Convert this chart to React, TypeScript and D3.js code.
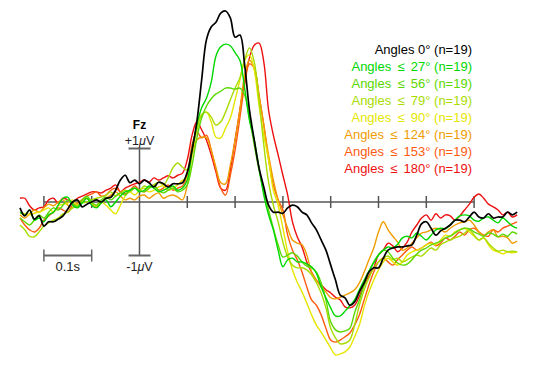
import React, { useRef, useEffect } from 'react';
import * as d3 from 'd3';

// sampling of the averaged waveforms (s)
const T_START = -0.25;
const T_STEP = 0.01;

const LEGEND_LABELS = [
  'Angles 0° (n=19)',
  'Angles \u2009≤\u2009 27° (n=19)',
  'Angles \u2009≤\u2009 56° (n=19)',
  'Angles \u2009≤\u2009 79° (n=19)',
  'Angles \u2009≤\u2009 90° (n=19)',
  'Angles \u2009≤\u2009 124° (n=19)',
  'Angles \u2009≤\u2009 153° (n=19)',
  'Angles \u2009≤\u2009 180° (n=19)',
];

const COLORS = ['#000000', '#00d800', '#5cd800', '#a8dc00', '#e6e600', '#f09c00', '#ff5a10', '#ee1010'];

const X_TICKS = [-0.2, -0.1, 0.1, 0.2, 0.3, 0.4, 0.5, 0.6, 0.7];

// Fz ERPs in microvolts
const ERP_0 = [
  -0.11, -0.26, -0.15, -0.32, -0.26, -0.45, -0.37, -0.37, -0.32, -0.26,
  -0.13, 0, 0.04, -0.09, -0.04, 0, 0.04, 0, 0.07, 0.09,
  0.22, 0.41, 0.5, 0.36, 0.41, 0.34, 0.41, 0.36, 0.28, 0.37,
  0.34, 0.28, 0.34, 0.34, 0.36, 0.56, 0.97, 1.5, 2.28, 3.03,
  3.27, 3.36, 3.53, 3.57, 3.44, 3.08, 3.12, 2.56, 1.72, 1.16,
  0.64, 0.28, -0.06, -0.19, -0.19, -0.21, -0.11, -0.06, -0.09, -0.19,
  -0.24, -0.39, -0.52, -0.71, -0.9, -1.18, -1.46, -1.74, -1.79, -1.93,
  -1.87, -1.68, -1.51, -1.31, -1.23, -1.23, -1.05, -0.9, -0.86, -0.84,
  -0.84, -0.82, -0.8, -0.62, -0.41, -0.37, -0.49, -0.62, -0.54, -0.49,
  -0.43, -0.34, -0.34, -0.37, -0.28, -0.19, -0.28, -0.3, -0.22, -0.3,
  -0.28, -0.28, -0.19, -0.24, -0.19,
];
const ERP_27 = [
  -0.19, -0.24, -0.15, -0.34, -0.3, -0.37, -0.24, -0.19, -0.06, 0.07,
  0.09, -0.06, -0.11, -0.02, 0.07, -0.06, -0.11, -0.02, 0.04, -0.09,
  0, 0.11, 0.19, 0.22, 0.26, 0.19, 0.22, 0.3, 0.26, 0.19,
  0.22, 0.26, 0.3, 0.22, 0.26, 0.41, 0.97, 1.44, 1.76, 1.94,
  2.24, 2.73, 2.9, 2.95, 2.92, 2.79, 2.65, 2.13, 1.53, 1.16,
  0.64, 0.13, -0.24, -0.52, -0.9, -1.21, -1.08, -1.05, -1.12, -1.12,
  -1.16, -1.21, -1.33, -1.59, -1.79, -1.98, -2.13, -2.13, -2.04, -1.94,
  -1.83, -1.64, -1.46, -1.29, -1.14, -0.99, -0.9, -0.84, -0.86, -0.79,
  -0.67, -0.64, -0.67, -0.58, -0.64, -0.71, -0.62, -0.52, -0.49, -0.5,
  -0.43, -0.34, -0.26, -0.24, -0.26, -0.34, -0.36, -0.3, -0.28, -0.34,
  -0.39, -0.3, -0.37, -0.45, -0.49,
];
const ERP_56 = [
  -0.3, -0.37, -0.43, -0.34, -0.24, -0.3, -0.19, -0.11, -0.15, -0.06,
  0.04, -0.02, -0.09, 0.04, 0.11, 0, -0.06, 0.04, 0.09, 0.04,
  0.11, 0.17, 0.13, 0.22, 0.26, 0.22, 0.19, 0.26, 0.3, 0.22,
  0.17, 0.22, 0.26, 0.19, 0.22, 0.32, 0.69, 1.2, 1.57, 1.79,
  1.93, 2.02, 2.07, 2.13, 2.13, 2.11, 2.13, 2.0, 1.57, 1.07,
  0.6, 0.19, -0.15, -0.49, -0.8, -1.03, -0.99, -0.95, -1.01, -1.12,
  -1.2, -1.23, -1.31, -1.51, -1.83, -2.24, -2.39, -2.43, -2.41, -2.36,
  -2.07, -1.83, -1.55, -1.31, -1.12, -0.99, -0.9, -0.93, -1.05, -1.14,
  -1.18, -1.16, -1.08, -0.97, -0.9, -0.86, -0.8, -0.77, -0.73, -0.67,
  -0.64, -0.58, -0.52, -0.49, -0.5, -0.56, -0.6, -0.64, -0.58, -0.6,
  -0.65, -0.6, -0.64, -0.56, -0.6,
];
const ERP_79 = [
  -0.43, -0.52, -0.64, -0.65, -0.56, -0.45, -0.39, -0.34, -0.3, -0.22,
  -0.19, -0.11, -0.06, -0.02, 0, 0.04, 0.07, 0.09, 0.13, 0.19,
  0.11, 0.17, 0.22, 0.19, 0.26, 0.22, 0.3, 0.26, 0.32, 0.37,
  0.32, 0.45, 0.64, 0.73, 0.65, 0.6, 0.97, 1.35, 1.63, 1.68,
  1.59, 1.44, 1.5, 1.68, 1.91, 2.13, 2.32, 2.65, 2.88, 2.62,
  1.91, 1.07, 0.37, -0.06, -0.37, -0.75, -1.03, -1.18, -1.23, -1.23,
  -1.27, -1.36, -1.51, -1.7, -1.98, -2.36, -2.54, -2.65, -2.64, -2.58,
  -2.3, -1.93, -1.64, -1.42, -1.23, -1.12, -1.05, -1.01, -1.08, -1.05,
  -1.12, -1.08, -1.03, -0.99, -1.01, -0.93, -0.86, -0.9, -0.8, -0.75,
  -0.71, -0.67, -0.64, -0.58, -0.52, -0.62, -0.71, -0.67, -0.77, -0.86,
  -0.92, -0.9, -0.93, -0.92, -0.93,
];
const ERP_90 = [
  -0.19, -0.22, -0.24, -0.21, -0.19, -0.15, -0.11, -0.19, -0.07, -0.04,
  -0.02, 0.04, -0.06, 0, 0.07, -0.02, -0.07, 0, -0.06, -0.15,
  -0.22, -0.06, 0.11, 0.19, 0.13, 0.22, 0.26, 0.19, 0.22, 0.28,
  0.3, 0.22, 0.26, 0.32, 0.41, 0.45, 0.88, 1.35, 1.63, 1.68,
  1.5, 1.21, 1.2, 1.38, 1.57, 1.91, 2.28, 2.65, 2.75, 2.47,
  1.81, 1.25, 0.79, 0.22, -0.06, -0.49, -0.93, -1.27, -1.5, -1.68,
  -1.89, -2.11, -2.3, -2.43, -2.58, -2.73, -2.86, -2.84, -2.8, -2.71,
  -2.52, -2.3, -1.96, -1.68, -1.46, -1.27, -1.12, -1.05, -1.12, -1.18,
  -1.12, -0.99, -0.93, -0.9, -0.86, -0.8, -0.77, -0.8, -0.71, -0.62,
  -0.64, -0.56, -0.52, -0.49, -0.56, -0.64, -0.71, -0.67, -0.8, -0.9,
  -0.93, -0.97, -0.93, -0.95, -0.93,
];
const ERP_124 = [
  -0.24, -0.3, -0.22, -0.15, -0.19, -0.11, -0.04, -0.07, 0, 0.04,
  -0.06, -0.11, -0.02, 0.04, 0.07, -0.04, -0.09, -0.02, 0.07, 0.13,
  0.19, 0.11, 0.04, 0.07, 0.04, 0.11, 0.13, 0.07, 0.13, 0.17,
  0.07, 0.11, 0.13, 0.09, 0.04, 0.32, 0.88, 1.16, 1.21, 1.2,
  0.97, 0.64, 0.36, 0.34, 0.69, 1.16, 1.72, 2.37, 2.65, 2.5,
  2.0, 1.44, 0.88, 0.41, 0.04, -0.24, -0.49, -0.71, -0.77, -0.8,
  -0.99, -1.31, -1.46, -1.59, -1.68, -1.79, -1.81, -1.78, -1.74, -1.7,
  -1.64, -1.51, -1.31, -1.08, -0.86, -0.56, -0.37, -0.52, -0.64, -0.75,
  -0.9, -0.86, -0.77, -0.67, -0.58, -0.56, -0.52, -0.49, -0.52, -0.56,
  -0.49, -0.43, -0.39, -0.37, -0.34, -0.43, -0.56, -0.62, -0.56, -0.52,
  -0.65, -0.64, -0.67, -0.77, -0.73,
];
const ERP_153 = [
  -0.3, -0.43, -0.52, -0.56, -0.49, -0.34, -0.26, -0.19, -0.11, -0.15,
  -0.19, -0.06, -0.02, 0.04, 0.11, 0.15, 0.19, 0.11, 0.13, 0.22,
  0.26, 0.19, 0.15, 0.22, 0.3, 0.22, 0.19, 0.26, 0.32, 0.22,
  0.26, 0.32, 0.22, 0.26, 0.3, 0.5, 1.07, 1.31, 1.2, 1.25,
  0.97, 0.6, 0.26, 0.13, 0.5, 0.97, 1.57, 2.19, 2.58, 2.5,
  2.0, 1.44, 0.79, 0.32, 0.04, -0.15, -0.62, -0.9, -1.08, -1.31,
  -1.59, -1.83, -1.93, -2.11, -2.36, -2.58, -2.62, -2.58, -2.52, -2.45,
  -2.3, -2.11, -1.83, -1.55, -1.31, -1.12, -1.05, -1.12, -1.18, -1.08,
  -0.99, -0.9, -0.84, -0.9, -0.86, -0.8, -0.75, -0.82, -0.77, -0.67,
  -0.71, -0.64, -0.56, -0.62, -0.52, -0.49, -0.56, -0.62, -0.64, -0.52,
  -0.56, -0.49, -0.45, -0.41, -0.37,
];
const ERP_180 = [
  0.07, 0.07, -0.07, -0.15, -0.11, -0.09, 0.04, 0.07, -0.02, 0.07,
  0.04, 0, 0.07, 0.11, 0.15, 0.19, 0.19, 0.17, 0.22, 0.26,
  0.32, 0.19, 0.26, 0.3, 0.34, 0.37, 0.41, 0.37, 0.45, 0.41,
  0.45, 0.49, 0.45, 0.5, 0.54, 0.79, 1.25, 1.5, 1.35, 1.16,
  0.88, 0.56, 0.26, 0.22, 0.6, 1.16, 1.72, 2.28, 2.69, 2.93,
  2.97, 2.62, 1.72, 1.25, 0.88, 0.5, 0.13, -0.37, -0.65, -0.84,
  -1.12, -1.31, -1.46, -1.55, -1.64, -1.7, -1.78, -1.83, -1.96, -1.98,
  -1.93, -1.76, -1.55, -1.38, -1.23, -0.99, -0.9, -0.77, -0.82, -0.93,
  -0.86, -0.75, -0.56, -0.43, -0.3, -0.24, -0.34, -0.22, -0.3, -0.24,
  -0.26, -0.34, -0.26, -0.15, -0.04, 0.09, 0.15, 0.07, -0.04, -0.09,
  -0.15, -0.24, -0.19, -0.28, -0.24,
];

const SERIES_VALUES = [ERP_0, ERP_27, ERP_56, ERP_79, ERP_90, ERP_124, ERP_153, ERP_180];

const FONT = '"Liberation Sans", Arial, Helvetica, sans-serif';

const ErpChart: React.FC = () => {
  const svgRef = useRef<SVGSVGElement>(null);

  useEffect(() => {
    if (!svgRef.current) return;
    const svg = d3.select(svgRef.current);
    svg.selectAll('*').remove();

    const x = d3.scaleLinear().domain([0, 0.7]).range([139.5, 474.1]);
    const y = d3.scaleLinear().domain([-1, 1]).range([255.5, 148.5]);

    // time axis
    svg.append('line')
      .attr('x1', x(-0.2)).attr('x2', x(0.7))
      .attr('y1', y(0)).attr('y2', y(0))
      .attr('stroke', '#000').attr('stroke-width', 1);
    svg.append('g')
      .selectAll('line')
      .data(X_TICKS)
      .join('line')
      .attr('x1', d => x(d)).attr('x2', d => x(d))
      .attr('y1', y(0) - 6).attr('y2', y(0) + 6)
      .attr('stroke', '#555').attr('stroke-width', 1.5);

    // amplitude axis
    svg.append('line')
      .attr('x1', x(0)).attr('x2', x(0))
      .attr('y1', y(1)).attr('y2', y(-1))
      .attr('stroke', '#555').attr('stroke-width', 1.5);
    [1, -1].forEach(v => {
      svg.append('line')
        .attr('x1', x(0) - 11).attr('x2', x(0) + 11)
        .attr('y1', y(v)).attr('y2', y(v))
        .attr('stroke', '#666').attr('stroke-width', 2);
    });

    // 0.1 s scale bar
    const barY = y(-1);
    svg.append('line')
      .attr('x1', x(-0.2)).attr('x2', x(-0.1))
      .attr('y1', barY).attr('y2', barY)
      .attr('stroke', '#666').attr('stroke-width', 2);
    [-0.2, -0.1].forEach(t => {
      svg.append('line')
        .attr('x1', x(t)).attr('x2', x(t))
        .attr('y1', barY - 6).attr('y2', barY + 6)
        .attr('stroke', '#666').attr('stroke-width', 1.5);
    });

    const txt = (tx: number, ty: number, s: string, size = 13) =>
      svg.append('text')
        .attr('x', tx).attr('y', ty)
        .attr('text-anchor', 'middle')
        .attr('font-family', FONT)
        .attr('font-size', size)
        .attr('fill', '#222')
        .text(s);

    txt(x(-0.15), 271, '0.1s');
    txt(x(0), 129, 'Fz', 12).attr('font-weight', 'bold').attr('fill', '#000');

    const uv = (ty: number, sign: string) => {
      const t = svg.append('text')
        .attr('x', x(0)).attr('y', ty)
        .attr('text-anchor', 'middle')
        .attr('font-family', FONT)
        .attr('font-size', 12.5)
        .attr('fill', '#222');
      t.append('tspan').text(sign + '1');
      t.append('tspan').attr('font-style', 'italic').text('μ');
      t.append('tspan').text('V');
    };
    uv(144.5, '+');
    uv(271, '-');

    // waveforms
    const line = d3.line<number>()
      .x((_, i) => x(T_START + i * T_STEP))
      .y(d => y(d))
      .curve(d3.curveCatmullRom);

    const order = d3.range(SERIES_VALUES.length).reverse();
    svg.append('g')
      .selectAll('path')
      .data(order)
      .join('path')
      .attr('d', i => line(SERIES_VALUES[i]))
      .attr('fill', 'none')
      .attr('stroke', i => COLORS[i])
      .attr('stroke-width', i => (i === 0 ? 1.7 : 1.4))
      .attr('stroke-linejoin', 'round');

    // legend
    svg.append('g')
      .selectAll('text')
      .data(LEGEND_LABELS)
      .join('text')
      .attr('x', 472)
      .attr('y', (_, i) => 53.5 + i * 17)
      .attr('text-anchor', 'end')
      .attr('font-family', FONT)
      .attr('font-size', 13)
      .attr('fill', (_, i) => COLORS[i])
      .text(d => d);
  }, []);

  return (
    <svg
      ref={svgRef}
      width={540}
      height={375}
      style={{ position: 'absolute', left: 0, top: 0, background: '#fff' }}
    />
  );
};

export default function App() {
  return <ErpChart />;
}
